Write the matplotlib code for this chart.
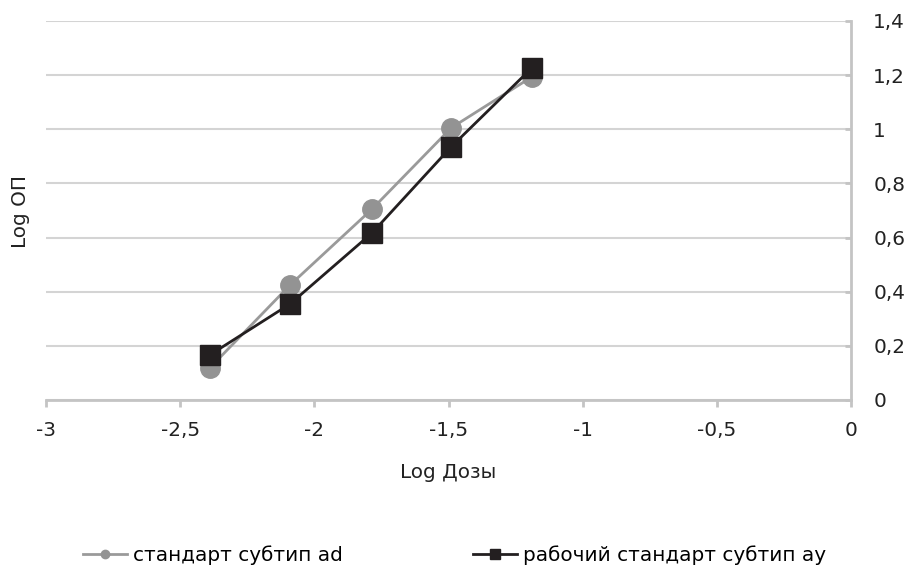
import matplotlib.pyplot as plt
from matplotlib.lines import Line2D
from matplotlib.ticker import FuncFormatter

plt.rcParams['font.family'] = ['DejaVu Sans']

# Log дозы и Log ОП для двух стандартов
log_dose = [-2.39, -2.09, -1.785, -1.49, -1.19]
std_ad = [0.118, 0.425, 0.705, 1.005, 1.193]
work_ay = [0.166, 0.355, 0.617, 0.935, 1.226]

label_ad = 'стандарт субтип ad'
label_ay = 'рабочий стандарт субтип ay'

gray = '#939393'
black = '#231f20'
axis_col = '#c4c4c4'
txt = '#222222'
fs = 14.4

fig = plt.figure(figsize=(9.09, 5.66), dpi=100)
ax = fig.add_axes([0.0506, 0.2933, 0.8856, 0.6697])

ax.plot(log_dose, std_ad, color='#9a9a9a', lw=2, marker='o', ms=14,
        mfc=gray, mec=gray, zorder=3)
ax.plot(log_dose, work_ay, color=black, lw=2, marker='s', ms=15,
        mfc=black, mec=black, zorder=4)

ax.set_xlim(-3, 0)
ax.set_ylim(0, 1.4)
ax.set_xticks([-3, -2.5, -2, -1.5, -1, -0.5, 0])
ax.set_yticks([0, 0.2, 0.4, 0.6, 0.8, 1.0, 1.2, 1.4])

comma = FuncFormatter(lambda v, p: ('%g' % round(v, 2)).replace('.', ','))
ax.xaxis.set_major_formatter(comma)
ax.yaxis.set_major_formatter(comma)

# ось Y справа, в точке x = 0
ax.yaxis.tick_right()
ax.grid(axis='y', color='#d4d4d4', lw=1.5)
ax.set_axisbelow(True)
for s in ['top', 'left']:
    ax.spines[s].set_visible(False)
for s in ['bottom', 'right']:
    ax.spines[s].set_color(axis_col)
    ax.spines[s].set_linewidth(2)
ax.tick_params(axis='x', colors=axis_col, labelcolor=txt, length=5,
               width=2, labelsize=fs, pad=10)
ax.tick_params(axis='y', colors=axis_col, labelcolor=txt, length=4,
               width=2, direction='in', labelsize=fs, pad=16)

ax.set_xlabel('Log Дозы', fontsize=fs, color=txt, labelpad=17)
fig.text(0.023, 0.627, 'Log ОП', rotation=90, fontsize=fs, color=txt,
         ha='center', va='center')

# две подписи легенды внизу, каждая на своём месте
h_ad = Line2D([], [], color='#9a9a9a', lw=2, marker='o', ms=6, mfc=gray, mec=gray)
h_ay = Line2D([], [], color=black, lw=2, marker='s', ms=7, mfc=black, mec=black)
for h, lab, x0 in [(h_ad, label_ad, 0.0913), (h_ay, label_ay, 0.5204)]:
    fig.legend([h], [lab], loc='center left', bbox_to_anchor=(x0, 0.02),
               frameon=False, fontsize=fs, handlelength=2.2,
               handletextpad=0.3, borderpad=0, borderaxespad=0)

fig.savefig('out.png', dpi=100)
